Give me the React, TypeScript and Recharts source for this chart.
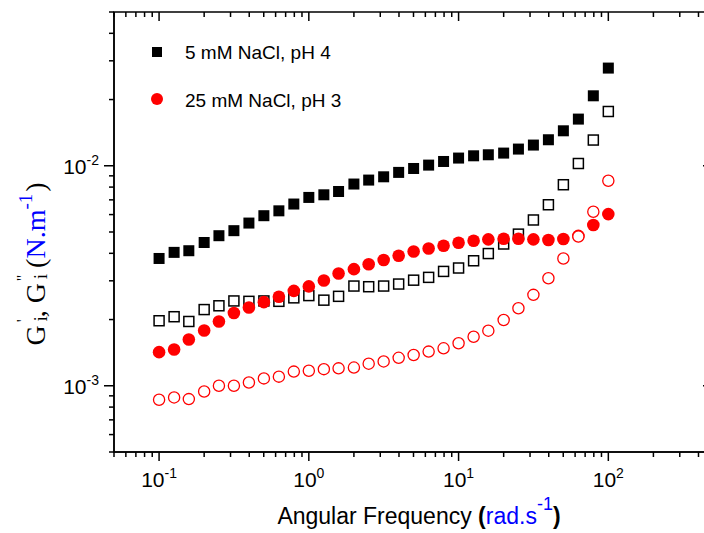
import React from 'react';
import { ScatterChart, Scatter, XAxis, YAxis, Label } from 'recharts';

// angular frequency, rad/s
const frequency = [
  0.1, 0.126, 0.158, 0.2, 0.251, 0.316, 0.398, 0.501, 0.631, 0.794,
  1, 1.26, 1.58, 2, 2.51, 3.16, 3.98, 5.01, 6.31, 7.94,
  10, 12.6, 15.8, 20, 25.1, 31.6, 39.8, 50.1, 63.1, 79.4, 100,
];

// 5 mM NaCl, pH 4
const storage5mM = [
  0.00379, 0.00404, 0.00411, 0.00448, 0.00481, 0.00507, 0.00549, 0.00593, 0.00624, 0.0067,
  0.00718, 0.00738, 0.00764, 0.00826, 0.00861, 0.00891, 0.00933, 0.00972, 0.01007, 0.01046,
  0.01084, 0.0111, 0.01122, 0.01142, 0.01191, 0.01242, 0.01313, 0.01442, 0.0163, 0.0208, 0.0278,
];
const loss5mM = [
  0.001975, 0.00206, 0.00196, 0.00222, 0.00231, 0.00243, 0.00242, 0.00243, 0.00242, 0.00251,
  0.00257, 0.00245, 0.00255, 0.00284, 0.00282, 0.00284, 0.0029, 0.00302, 0.00311, 0.00331,
  0.00343, 0.0037, 0.00399, 0.00441, 0.00489, 0.00567, 0.00665, 0.0082, 0.01024, 0.01309, 0.01765,
];

// 25 mM NaCl, pH 3
const storage25mM = [
  0.001422, 0.001462, 0.001623, 0.001784, 0.001958, 0.002143, 0.00227, 0.0024, 0.00254, 0.0027,
  0.00283, 0.00301, 0.00324, 0.00339, 0.00357, 0.00373, 0.0039, 0.00408, 0.00421, 0.00433,
  0.00447, 0.00456, 0.00463, 0.00466, 0.00466, 0.00463, 0.0046, 0.00465, 0.0048, 0.00538, 0.00603,
];
const loss25mM = [
  0.000864, 0.000885, 0.00087, 0.000942, 0.001, 0.001, 0.001035, 0.00108, 0.0011, 0.00116,
  0.00117, 0.00119, 0.0012, 0.00121, 0.00126, 0.00129, 0.00134, 0.00138, 0.00143, 0.00148,
  0.00156, 0.00167, 0.00178, 0.00199, 0.00225, 0.00259, 0.00308, 0.00379, 0.00477, 0.00618, 0.00855,
];

const seriesLabels = ['5 mM NaCl, pH 4', '25 mM NaCl, pH 3'];

const xMajorTicks = [0.1, 1, 10, 100];
const xTickExponents = ['-1', '0', '1', '2'];
const yMajorTicks = [0.001, 0.01];
const yTickExponents = ['-3', '-2'];

const X_DOMAIN = [0.05, 500];
const Y_DOMAIN = [0.0005, 0.05];

const SANS = 'Arial, "Liberation Sans", Helvetica, sans-serif';
const SERIF = '"Times New Roman", "Liberation Serif", Times, serif';
const BLUE = '#0000ff';
const RED = '#ff0000';

// chart box and the resulting plot area
const CHART_W = 728;
const CHART_H = 533;
const MARGIN = { top: 12, right: 15, bottom: 0, left: 54 };
const Y_AXIS_W = 60;
const X_AXIS_H = 81;
const PLOT_LEFT = MARGIN.left + Y_AXIS_W;
const PLOT_TOP = MARGIN.top;
const PLOT_W = CHART_W - MARGIN.left - MARGIN.right - Y_AXIS_W;
const PLOT_H = CHART_H - MARGIN.top - MARGIN.bottom - X_AXIS_H;

// log ticks: every mantissa 1..9 inside the domain
const logTicks = (lo: number, hi: number) => {
  const out: number[] = [];
  for (let e = Math.floor(Math.log10(lo)); e <= Math.ceil(Math.log10(hi)); e++) {
    for (let m = 1; m <= 9; m++) {
      const v = Number((m * Math.pow(10, e)).toPrecision(6));
      if (v >= lo * 0.9999 && v <= hi * 1.0001) out.push(v);
    }
  }
  return out;
};
const xTicks = logTicks(X_DOMAIN[0], X_DOMAIN[1]);
const yTicks = logTicks(Y_DOMAIN[0], Y_DOMAIN[1]);

const toPoints = (ys: number[]) => frequency.map((x, i) => ({ x, y: ys[i] }));

const majorIndex = (list: number[], v: number) =>
  list.findIndex((t) => Math.abs(t - v) / t < 1e-6);

const MAJOR = 9;
const MINOR = 5;

const BottomTick = (p: any) => {
  const { x, y, payload } = p;
  const k = majorIndex(xMajorTicks, payload.value);
  return (
    <g>
      <line x1={x} x2={x} y1={y} y2={y + (k >= 0 ? MAJOR : MINOR)} stroke="#000" strokeWidth={1.5} />
      {k >= 0 && (
        <text x={x} y={y + 35} textAnchor="middle" fontFamily={SANS} fontSize={21} fill="#000">
          10<tspan fontSize={14} dy={-9}>{xTickExponents[k]}</tspan>
        </text>
      )}
    </g>
  );
};

const LeftTick = (p: any) => {
  const { x, y, payload } = p;
  const k = majorIndex(yMajorTicks, payload.value);
  return (
    <g>
      <line x1={x - (k >= 0 ? MAJOR + 1 : MINOR)} x2={x} y1={y} y2={y} stroke="#000" strokeWidth={1.5} />
      {k >= 0 && (
        <text x={x - 15} y={y + 8.5} textAnchor="end" fontFamily={SANS} fontSize={21} fill="#000">
          10<tspan fontSize={14} dy={-9}>{yTickExponents[k]}</tspan>
        </text>
      )}
    </g>
  );
};

// top and right edges of the frame with inward ticks, plus the legend box
const logFrac = (v: number, d: number[]) =>
  (Math.log10(v) - Math.log10(d[0])) / (Math.log10(d[1]) - Math.log10(d[0]));

const FrameOverlay = () => {
  const right = PLOT_LEFT + PLOT_W;
  return (
    <svg
      width={704}
      height={CHART_H}
      style={{ position: 'absolute', left: 0, top: 0, zIndex: 10, pointerEvents: 'none' }}
    >
      <rect x={PLOT_LEFT} y={PLOT_TOP} width={PLOT_W} height={PLOT_H} fill="none" stroke="#000" strokeWidth={1.5} />
      {xTicks.map((v) => {
        const x = PLOT_LEFT + logFrac(v, X_DOMAIN) * PLOT_W;
        const len = majorIndex(xMajorTicks, v) >= 0 ? MAJOR : MINOR;
        return <line key={`t${v}`} x1={x} x2={x} y1={PLOT_TOP} y2={PLOT_TOP + len} stroke="#000" strokeWidth={1.5} />;
      })}
      {yTicks.map((v) => {
        const y = PLOT_TOP + (1 - logFrac(v, Y_DOMAIN)) * PLOT_H;
        const len = majorIndex(yMajorTicks, v) >= 0 ? MAJOR + 1 : MINOR;
        return <line key={`r${v}`} x1={right - len} x2={right} y1={y} y2={y} stroke="#000" strokeWidth={1.5} />;
      })}
      <g transform="translate(143 38)">
        <rect x={9} y={9} width={10} height={10} fill="#000" />
        <text x={42} y={21} fontFamily={SANS} fontSize={19} fill="#000">{seriesLabels[0]}</text>
        <circle cx={14} cy={61} r={6} fill={RED} />
        <text x={42} y={68.5} fontFamily={SANS} fontSize={19} fill="#000">{seriesLabels[1]}</text>
      </g>
    </svg>
  );
};

const XTitle = (p: any) => {
  const vb = p.viewBox || { x: PLOT_LEFT, y: PLOT_TOP + PLOT_H, width: PLOT_W, height: X_AXIS_H };
  const cx = vb.x + vb.width / 2 + 5.5;
  const by = vb.y + 72;
  return (
    <text x={cx} y={by} textAnchor="middle" fontFamily={SANS} fontSize={23} fill="#000">
      Angular Frequency{' '}
      <tspan fontWeight="bold">(</tspan>
      <tspan fill={BLUE}>rad.s</tspan>
      <tspan fill={BLUE} fontSize={18} dy={-14}>-1</tspan>
      <tspan fontWeight="bold" dy={14}>)</tspan>
    </text>
  );
};

const YTitle = (p: any) => {
  const vb = p.viewBox || { x: MARGIN.left, y: PLOT_TOP, width: Y_AXIS_W, height: PLOT_H };
  const cx = vb.x - 9;
  const cy = vb.y + vb.height / 2 + 32;
  return (
    <text
      x={cx}
      y={cy}
      transform={`rotate(-90 ${cx} ${cy})`}
      textAnchor="middle"
      fontFamily={SERIF}
      fontSize={28}
      fill="#000"
    >
      G
      <tspan fontSize={18} dx={4} dy={2}>i</tspan>
      <tspan fontSize={17} dx={-6} dy={-19}>'</tspan>
      <tspan dy={17} dx={2}>, G</tspan>
      <tspan fontSize={18} dx={4} dy={2}>i</tspan>
      <tspan fontSize={17} dx={-7} dy={-19}>''</tspan>
      <tspan dy={17}>{'  ('}</tspan>
      <tspan fill={BLUE}>N.m</tspan>
      <tspan fill={BLUE} fontSize={19} dy={-13}>-1</tspan>
      <tspan dy={13} dx={2}>)</tspan>
    </text>
  );
};

const FilledSquare = (p: any) => <rect x={p.cx - 5.5} y={p.cy - 5.5} width={11} height={11} fill="#000" />;
const OpenSquare = (p: any) => (
  <rect x={p.cx - 5} y={p.cy - 5} width={10} height={10} fill="none" stroke="#000" strokeWidth={1.5} />
);
const FilledCircle = (p: any) => <circle cx={p.cx} cy={p.cy} r={6.3} fill={RED} />;
const OpenCircle = (p: any) => (
  <circle cx={p.cx} cy={p.cy} r={5.6} fill="#fff" stroke={RED} strokeWidth={1.3} />
);

const axisLine = { stroke: '#000', strokeWidth: 1.5 };

export default function App() {
  return (
    <div style={{ position: 'relative', width: 704, height: CHART_H, overflow: 'hidden' }}>
      <style>{'body { margin: 0; }'}</style>
      <ScatterChart width={CHART_W} height={CHART_H} margin={MARGIN}>
        <XAxis
          xAxisId="b"
          dataKey="x"
          type="number"
          scale="log"
          domain={X_DOMAIN}
          allowDataOverflow
          ticks={xTicks}
          interval={0}
          tickLine={false}
          tickSize={0}
          tickMargin={0}
          tick={(p: any) => <BottomTick {...p} />}
          axisLine={axisLine}
          height={X_AXIS_H}
          label={<Label content={(p: any) => <XTitle {...p} />} />}
        />
        <YAxis
          yAxisId="l"
          dataKey="y"
          type="number"
          scale="log"
          domain={Y_DOMAIN}
          allowDataOverflow
          ticks={yTicks}
          interval={0}
          tickLine={false}
          tickSize={0}
          tickMargin={0}
          tick={(p: any) => <LeftTick {...p} />}
          axisLine={axisLine}
          width={Y_AXIS_W}
          label={<Label content={(p: any) => <YTitle {...p} />} />}
        />
        <Scatter name="G'' 5 mM" data={toPoints(loss5mM)} xAxisId="b" yAxisId="l" shape={OpenSquare} isAnimationActive={false} />
        <Scatter name="G' 5 mM" data={toPoints(storage5mM)} xAxisId="b" yAxisId="l" shape={FilledSquare} isAnimationActive={false} />
        <Scatter name="G' 25 mM" data={toPoints(storage25mM)} xAxisId="b" yAxisId="l" shape={FilledCircle} isAnimationActive={false} />
        <Scatter name="G'' 25 mM" data={toPoints(loss25mM)} xAxisId="b" yAxisId="l" shape={OpenCircle} isAnimationActive={false} />
      </ScatterChart>
      <FrameOverlay />
    </div>
  );
}
